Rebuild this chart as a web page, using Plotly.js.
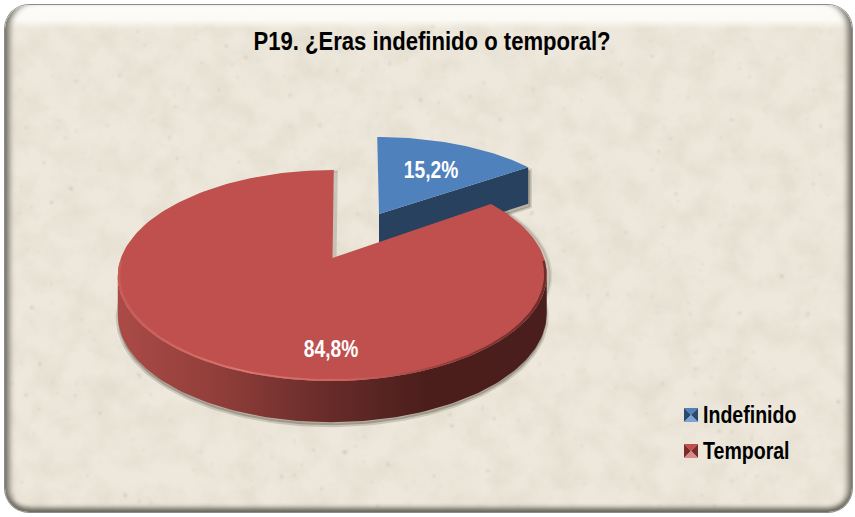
<!DOCTYPE html>
<html>
<head>
<meta charset="utf-8">
<script src="https://cdn.plot.ly/plotly-3.0.1.min.js"></script>
<style>
html,body{margin:0;padding:0;background:#fff;width:855px;height:517px;overflow:hidden}
#frame{position:absolute;left:5px;top:5px;width:847px;height:507px;border-radius:24px;overflow:hidden;background:#eee8dc;
box-shadow:0 0 0 1px #8c8c8c;}
#tex{position:absolute;left:0;top:0;width:847px;height:507px}
#band{position:absolute;left:0;top:0;width:847px;height:24px;background:linear-gradient(to bottom,#fdfcf9 0,#fbfaf5 62%,rgba(250,248,242,0) 100%)}
#bevel{position:absolute;left:0;top:0;width:847px;height:507px;border-radius:24px;
box-shadow:inset 9px 0 6px -5px #6f6c62, inset -9px 0 6px -5px #6f6c62, inset 0 -8px 5px -4px #67645a;}
#chart{position:absolute;left:0;top:0;width:855px;height:517px}
</style>
</head>
<body>
<div id="frame">
<svg id="tex" xmlns="http://www.w3.org/2000/svg">
<filter id="mott" x="0" y="0" width="100%" height="100%"><feTurbulence type="fractalNoise" baseFrequency="0.035" numOctaves="5" seed="7"/>
<feColorMatrix type="matrix" values="0 0 0 0 0.66  0 0 0 0 0.62  0 0 0 0 0.52  0.75 0 0 0 -0.27"/></filter>
<filter id="speck" x="0" y="0" width="100%" height="100%"><feTurbulence type="fractalNoise" baseFrequency="0.16" numOctaves="2" seed="19"/>
<feColorMatrix type="matrix" values="0 0 0 0 0.5  0 0 0 0 0.47  0 0 0 0 0.41  5 0 0 0 -3.7"/><feGaussianBlur stdDeviation="0.9"/></filter>
<rect width="847" height="507" filter="url(#mott)"/>
<rect width="847" height="507" filter="url(#speck)"/>
</svg>
<div id="band"></div>
<div id="bevel"></div>
</div>
<div id="chart"></div>
<script>
var categories = ["Indefinido", "Temporal"];
var values = [15.2, 84.8];
var valueLabels = ["15,2%", "84,8%"];
var titleText = "P19. ¿Eras indefinido o temporal?";

var total = values[0] + values[1];
var split = values[0] / total * 360;

// perspective projection of a tilted disc; each slice is pulled apart
function disc(cx, cy, a, b, k, s) {
  return function (deg, r, drop) {
    var t = deg * Math.PI / 180, c = Math.cos(t) * r, d = 1 + k * c;
    return [cx + (a * Math.sin(t) * r + s * c) / d,
            cy - b * c / d + (drop || 0) * (1 - k * c * 0.5)];
  };
}
var blueDisc = disc(379, 214, 198, 87, 0.13, -2);
var redDisc = disc(332.5, 258, 211.5, 102.6, 0.166, 1.5);
var depth = 38;

function arc(p, from, to, r, drop) {
  var out = [], n = Math.ceil(Math.abs(to - from) / 1.5);
  for (var i = 0; i <= n; i++) out.push(p(from + (to - from) * i / n, r, drop));
  return out;
}
function poly(pts, extra) {
  var tr = {
    type: "scatter", mode: "lines", fill: "toself", hoverinfo: "skip", showlegend: false,
    x: pts.map(function (q) { return q[0]; }),
    y: pts.map(function (q) { return q[1]; }),
    line: { width: 0 }
  };
  for (var key in extra) tr[key] = extra[key];
  return tr;
}
function shifted(pts, dx, dy) {
  return pts.map(function (q) { return [q[0] + dx, q[1] + dy]; });
}

var wallFrom = 180 / Math.PI * Math.acos(-0.166);
var wallTo = 360 - wallFrom;
var redWall = arc(redDisc, wallFrom, wallTo, 1, 0).concat(arc(redDisc, wallTo, wallFrom, 1, depth));
var redTop = [redDisc(0, 0)].concat(arc(redDisc, split, 360, 1, 0));
var blueTop = [blueDisc(0, 0)].concat(arc(blueDisc, 0, split, 1, 0));
var blueWall = [blueDisc(0, 0), blueDisc(split, 1), blueDisc(split, 1, depth), blueDisc(0, 0, depth)];
var rim = arc(redDisc, wallFrom - 8, wallTo + 8, 1, 0).concat(arc(redDisc, wallTo + 8, wallFrom - 8, 0.988, 0));
var bodyShadow = arc(redDisc, wallFrom - 10, wallTo + 10, 1, depth);

var traces = [
  poly(shifted(bodyShadow, 0, 3), { line: { width: 4, color: "rgba(70,66,50,0.2)" }, fillcolor: "rgba(70,66,50,0.32)" }),
  poly(shifted(blueWall, 2, 3), { line: { width: 3, color: "rgba(70,66,50,0.2)" }, fillcolor: "rgba(70,66,50,0.3)" }),
  poly(shifted(redTop, 4, 1), { line: { width: 3, color: "rgba(70,66,50,0.1)" }, fillcolor: "rgba(70,66,50,0.2)" }),
  poly(blueWall, { fillcolor: "#27415f", name: categories[0] }),
  poly(blueTop, { fillcolor: "#4f81bd", name: categories[0], hoverinfo: "name" }),
  poly(redWall, {
    name: categories[1],
    fillgradient: { type: "horizontal", start: 117, stop: 546,
      colorscale: [[0, "#ab4b47"], [0.25, "#8f3d39"], [0.5, "#662b29"], [0.72, "#4b1e1c"], [1, "#4a1e1c"]] }
  }),
  poly(redTop, { fillcolor: "#bf504d", name: categories[1], hoverinfo: "name" }),
  poly(rim, {
    fillgradient: { type: "horizontal", start: 117, stop: 546,
      colorscale: [[0, "#c65a56"], [0.3, "#dc7670"], [0.55, "#cf625d"], [0.8, "#8d3936"], [1, "#6f2c2a"]] }
  })
];

var swatchColors = [["#29496f", "#4f81bd", "#29496f", "#7ba4d6"], ["#7a2c2a", "#c0504d", "#7a2c2a", "#d98a86"]];
var swatchY = [415, 451];
var shapes = [];
function tri(x, y, pts, col) {
  var d = pts.map(function (q, i) { return (i ? "L" : "M") + (x + q[0]) + "," + (y + q[1]); }).join("") + "Z";
  shapes.push({ type: "path", path: d, fillcolor: col, line: { width: 0 }, layer: "above" });
}
var annotations = [];
var fontFamily = "Liberation Sans, Arial, sans-serif";
categories.forEach(function (name, i) {
  var x = 684, y = swatchY[i] - 7, c = swatchColors[i];
  tri(x, y, [[0, 0], [14, 0], [7, 7]], c[1]);
  tri(x, y, [[0, 0], [7, 7], [0, 14]], c[0]);
  tri(x, y, [[14, 0], [14, 14], [7, 7]], c[2]);
  tri(x, y, [[0, 14], [14, 14], [7, 7]], c[3]);
  annotations.push({ x: 701, y: swatchY[i] - 1, xref: "x", yref: "y", xanchor: "left", yanchor: "middle", showarrow: false,
    text: "<b>" + name + "</b>", font: { family: fontFamily, size: 24, color: "#000" } });
});
var labelPos = [[431, 169], [331, 348]];
valueLabels.forEach(function (t, i) {
  annotations.push({ x: labelPos[i][0], y: labelPos[i][1], xref: "x", yref: "y", showarrow: false, xanchor: "center", yanchor: "middle",
    text: "<b>" + t + "</b>", font: { family: fontFamily, size: 24, color: "#fff" } });
});

var layout = {
  width: 855, height: 517, autosize: false, showlegend: false,
  margin: { l: 0, r: 0, t: 0, b: 0, pad: 0 },
  paper_bgcolor: "rgba(0,0,0,0)", plot_bgcolor: "rgba(0,0,0,0)",
  title: { text: "<b>" + titleText + "</b>", x: 432 / 855, xanchor: "center", y: 1 - 41 / 517, yanchor: "middle",
    font: { family: fontFamily, size: 25, color: "#000" } },
  xaxis: { range: [0, 855], visible: false, fixedrange: true },
  yaxis: { range: [517, 0], visible: false, fixedrange: true },
  shapes: shapes, annotations: annotations
};
// the reference lettering is a condensed cut: narrow the real text elements around an anchor
function condense(el, sx, anchorLeft) {
  var b = el.getBBox(), ax = anchorLeft ? b.x : b.x + b.width / 2;
  var old = el.getAttribute("transform") || "";
  el.setAttribute("transform", old + " translate(" + ax + ",0) scale(" + sx + ",1) translate(" + (-ax) + ",0)");
}
Plotly.newPlot("chart", traces, layout, { displayModeBar: false, staticPlot: true }).then(function (gd) {
  var t = gd.querySelector(".gtitle");
  if (t) condense(t, 0.884, false);
  gd.querySelectorAll(".annotation-text").forEach(function (el, i) {
    condense(el, i < categories.length ? 0.815 : 0.8, i < categories.length);
  });
});
</script>
</body>
</html>
